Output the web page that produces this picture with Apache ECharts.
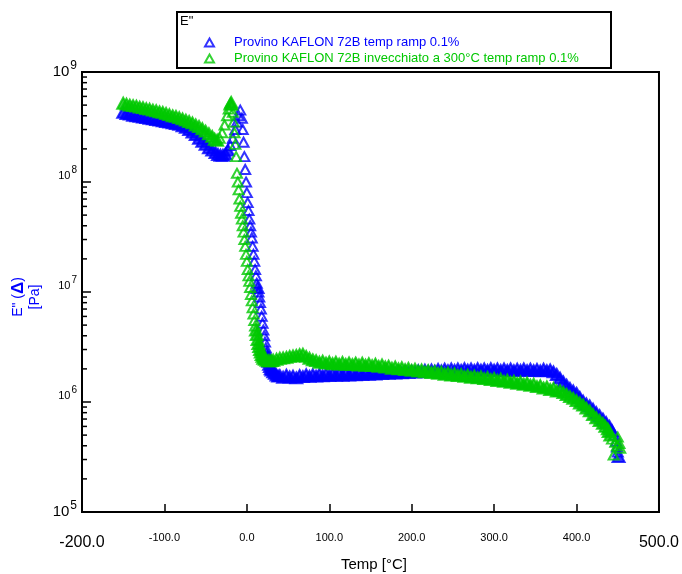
<!DOCTYPE html>
<html>
<head>
<meta charset="utf-8">
<script src="https://cdn.jsdelivr.net/npm/echarts@6/dist/echarts.min.js"></script>
<style>html,body{margin:0;padding:0;background:#fff}#c{width:682px;height:574px}</style>
</head>
<body>
<div id="c"></div>
<script>
const seriesNames = ['Provino KAFLON 72B temp ramp 0.1%', 'Provino KAFLON 72B invecchiato a 300°C temp ramp 0.1%'];
const xTickLabels = ['-200.0','-100.0','0.0','100.0','200.0','300.0','400.0','500.0'];
const yTickExponents = [5,6,7,8,9];
const yMinorValues = [2e5,3e5,4e5,5e5,6e5,7e5,8e5,9e5,2e6,3e6,4e6,5e6,6e6,7e6,8e6,9e6,2e7,3e7,4e7,5e7,6e7,7e7,8e7,9e7,2e8,3e8,4e8,5e8,6e8,7e8,8e8,9e8];

const blueT = [-150,-146,-142,-138,-134,-130,-126,-122,-118,-114,-110,-106,-102,-98,-94,-90,-86,-82,-78,-74,-70,-66,-62,-58,-54,-50,-46,-42,-38,-35,-32,-29,-26,-23,-20,-17,-14,-12,-10,-8,-6,-5,-4,-3,-2,-1,0,1,2,3,4,5,6,7,8,9,10,11,12,13,14,15,16,17,18,19,20,21,22,23,24,25,26,27,28,29,30,32,34,36,38,40,44,48,52,56,60,64,68,72,76,80,84,88,92,96,100,104,108,112,116,120,124,128,132,136,140,144,148,152,156,160,164,168,172,176,180,184,188,192,196,200,204,208,212,216,220,224,228,232,236,240,244,248,252,256,260,264,268,272,276,280,284,288,292,296,300,304,308,312,316,320,324,328,332,336,340,344,348,352,356,360,364,368,372,376,380,384,388,392,396,400,404,408,412,416,420,424,428,432,436,440,443,446,448,449,450,451,452];
const blueV = [4.3e8,4.2e8,4.15e8,4.05e8,4.0e8,3.95e8,3.9e8,3.85e8,3.8e8,3.75e8,3.7e8,3.65e8,3.6e8,3.55e8,3.5e8,3.45e8,3.4e8,3.35e8,3.25e8,3.15e8,3.0e8,2.85e8,2.7e8,2.5e8,2.35e8,2.2e8,2.05e8,1.95e8,1.85e8,1.78e8,1.75e8,1.75e8,1.8e8,1.95e8,2.15e8,2.5e8,3.0e8,3.5e8,4.0e8,4.5e8,3.8e8,3.0e8,2.3e8,1.7e8,1.3e8,1.0e8,8e7,6.5e7,5.5e7,4.6e7,4e7,3.5e7,3.1e7,2.6e7,2.2e7,1.9e7,1.6e7,1.4e7,1.2e7,1.1e7,1.0e7,9e6,8e6,7e6,6e6,5.2e6,4.5e6,4e6,3.5e6,3.1e6,2.8e6,2.55e6,2.35e6,2.2e6,2.1e6,2.0e6,1.95e6,1.88e6,1.82e6,1.76e6,1.72e6,1.74e6,1.68e6,1.75e6,1.69e6,1.72e6,1.66e6,1.74e6,1.70e6,1.77e6,1.71e6,1.77e6,1.72e6,1.79e6,1.73e6,1.80e6,1.74e6,1.80e6,1.75e6,1.81e6,1.75e6,1.82e6,1.76e6,1.83e6,1.77e6,1.84e6,1.78e6,1.84e6,1.79e6,1.86e6,1.80e6,1.86e6,1.81e6,1.87e6,1.82e6,1.88e6,1.83e6,1.89e6,1.84e6,1.90e6,1.85e6,1.91e6,1.87e6,1.93e6,1.88e6,1.95e6,1.90e6,1.96e6,1.91e6,1.98e6,1.92e6,1.99e6,1.93e6,2.0e6,1.94e6,2.0e6,1.94e6,2.01e6,1.95e6,2.0e6,1.94e6,2.01e6,1.95e6,2.0e6,1.94e6,2.01e6,1.95e6,2.0e6,1.94e6,2.0e6,1.94e6,2.0e6,1.93e6,1.99e6,1.94e6,2.0e6,1.93e6,1.99e6,1.93e6,1.98e6,1.92e6,1.99e6,1.93e6,1.96e6,1.88e6,1.78e6,1.65e6,1.52e6,1.42e6,1.33e6,1.26e6,1.2e6,1.1e6,1.02e6,9.6e5,9.2e5,8.6e5,8.0e5,7.5e5,7.0e5,6.5e5,6.0e5,5.5e5,5.0e5,4.4e5,3.9e5,3.5e5,3.2e5];

const greenT = [-150,-146,-142,-138,-134,-130,-126,-122,-118,-114,-110,-106,-102,-98,-94,-90,-86,-82,-78,-74,-70,-66,-62,-58,-54,-50,-46,-42,-39,-36,-33,-30,-27,-24,-22,-20,-19,-18,-17,-16,-15,-14,-13,-12,-11,-10,-9,-8,-7,-6,-5,-4,-3,-2,-1,0,1,2,3,4,5,6,7,8,9,10,11,12,13,14,15,16,17,18,19,20,22,24,26,28,30,32,36,40,44,48,52,56,60,64,68,72,76,80,84,88,92,96,100,104,108,112,116,120,124,128,132,136,140,144,148,152,156,160,164,168,172,176,180,184,188,192,196,200,204,208,212,216,220,224,228,232,236,240,244,248,252,256,260,264,268,272,276,280,284,288,292,296,300,304,308,312,316,320,324,328,332,336,340,344,348,352,356,360,364,368,372,376,380,384,388,392,396,400,404,408,412,416,420,424,428,432,435,438,439,441,443,445,447,449,450,452,453];
const greenV = [5.2e8,5.1e8,5.0e8,4.95e8,4.9e8,4.8e8,4.75e8,4.65e8,4.6e8,4.5e8,4.45e8,4.35e8,4.3e8,4.2e8,4.1e8,4.0e8,3.95e8,3.85e8,3.75e8,3.65e8,3.55e8,3.45e8,3.3e8,3.2e8,3.05e8,2.9e8,2.75e8,2.6e8,2.45e8,2.4e8,2.5e8,2.8e8,3.3e8,4.0e8,4.6e8,5.1e8,5.3e8,5.0e8,4.3e8,3.5e8,2.8e8,2.2e8,1.7e8,1.2e8,1.0e8,8.5e7,7e7,6e7,5.2e7,4.6e7,4e7,3.5e7,3e7,2.6e7,2.2e7,1.9e7,1.6e7,1.4e7,1.25e7,1.1e7,9.5e6,8.3e6,7.2e6,6.3e6,5.5e6,4.9e6,4.5e6,4.1e6,3.7e6,3.4e6,3.2e6,3.0e6,2.85e6,2.7e6,2.6e6,2.5e6,2.45e6,2.4e6,2.38e6,2.36e6,2.38e6,2.4e6,2.45e6,2.5e6,2.52e6,2.55e6,2.6e6,2.62e6,2.65e6,2.7e6,2.72e6,2.6e6,2.5e6,2.42e6,2.38e6,2.30e6,2.35e6,2.26e6,2.31e6,2.23e6,2.30e6,2.21e6,2.29e6,2.20e6,2.27e6,2.19e6,2.26e6,2.17e6,2.25e6,2.16e6,2.23e6,2.14e6,2.21e6,2.11e6,2.17e6,2.08e6,2.12e6,2.03e6,2.08e6,2.0e6,2.05e6,1.97e6,2.02e6,1.94e6,1.99e6,1.91e6,1.96e6,1.88e6,1.93e6,1.85e6,1.90e6,1.82e6,1.87e6,1.79e6,1.84e6,1.76e6,1.81e6,1.74e6,1.78e6,1.71e6,1.75e6,1.68e6,1.73e6,1.66e6,1.70e6,1.63e6,1.67e6,1.60e6,1.64e6,1.57e6,1.61e6,1.54e6,1.58e6,1.51e6,1.55e6,1.48e6,1.52e6,1.45e6,1.49e6,1.42e6,1.45e6,1.38e6,1.41e6,1.34e6,1.37e6,1.30e6,1.33e6,1.26e6,1.27e6,1.22e6,1.17e6,1.12e6,1.08e6,1.03e6,9.8e5,9.4e5,8.8e5,8.3e5,7.7e5,7.2e5,6.8e5,6.4e5,6.0e5,5.7e5,5.4e5,5.0e5,4.6e5,3.3e5,4.3e5,4.0e5,4.8e5,4.2e5,3.8e5,4.6e5,5.0e5,5.6e5];

const BLUE = '#0000ff', GREEN = '#00c800';
const blueData = blueT.map((t, i) => [t, blueV[i]]);
const greenData = greenT.map((t, i) => [t, greenV[i]]);

// points whose neighbours are close on the log scale overlap into a solid band
function denseFlags(vals) {
  return vals.map((v, i) => {
    const a = i > 0 ? Math.abs(Math.log10(v) - Math.log10(vals[i - 1])) : 0;
    const b = i < vals.length - 1 ? Math.abs(Math.log10(v) - Math.log10(vals[i + 1])) : 0;
    return Math.max(a, b) < 0.045;
  });
}
const blueDense = denseFlags(blueV);
const greenDense = denseFlags(greenV);

const chart = echarts.init(document.getElementById('c'));
const FONT = 'Liberation Sans, Arial, sans-serif';
chart.setOption({
  backgroundColor: '#fff',
  animation: false,
  textStyle: { fontFamily: FONT },
  grid: { left: 82, right: 18, top: 72, bottom: 62, show: true, borderColor: '#000', borderWidth: 2, backgroundColor: 'transparent' },
  legend: {
    orient: 'vertical', left: 199, top: 31, itemWidth: 9, itemHeight: 8, itemGap: 3,
    selectedMode: false,
    textStyle: { fontSize: 13, fontFamily: FONT, padding: [0, 0, 0, 15] },
    data: [
      { name: seriesNames[0], icon: 'triangle', itemStyle: { color: 'rgba(0,0,0,0)', borderColor: BLUE, borderWidth: 2 }, textStyle: { color: BLUE } },
      { name: seriesNames[1], icon: 'triangle', itemStyle: { color: 'rgba(0,0,0,0)', borderColor: GREEN, borderWidth: 2 }, textStyle: { color: GREEN } }
    ]
  },
  graphic: [
    { type: 'rect', shape: { x: 177, y: 12, width: 434, height: 56 }, style: { fill: 'none', stroke: '#000', lineWidth: 2 }, z: 1 },
    { type: 'text', x: 180, y: 15, style: { text: 'E"', fontSize: 13, fontFamily: FONT, fill: '#000' } },
    { type: 'text', x: 27, y: 297, rotation: Math.PI / 2,
      style: { text: '{a|E" (}{d|Δ}{a|)}\n{a|[Pa]}', align: 'center', verticalAlign: 'middle', fill: BLUE,
        rich: { a: { fontSize: 14, fontFamily: FONT, fill: BLUE, lineHeight: 17 }, d: { fontSize: 17, fontWeight: 'bold', fontFamily: FONT, fill: BLUE, lineHeight: 17 } } } },
    { type: 'text', x: 374, y: 565, style: { text: 'Temp [°C]', fontSize: 15, fontFamily: FONT, fill: '#000', align: 'center', verticalAlign: 'middle' } }
  ],
  xAxis: {
    type: 'value', min: -200, max: 500, interval: 100,
    axisLine: { show: true, onZero: false, lineStyle: { color: '#000', width: 2 } },
    axisTick: { show: true, inside: true, length: 8, lineStyle: { color: '#000', width: 1.5 } },
    splitLine: { show: false },
    axisLabel: {
      margin: 20,
      formatter: function (v) {
        const idx = Math.round((v + 200) / 100);
        const s = xTickLabels[idx];
        return (idx === 0 || idx === 7) ? '{big|' + s + '}' : '{sm|' + s + '}';
      },
      rich: { big: { fontSize: 16, color: '#000', fontFamily: FONT, padding: [3, 0, 0, 0] }, sm: { fontSize: 11, color: '#000', fontFamily: FONT } }
    }
  },
  yAxis: {
    type: 'log', logBase: 10, min: 1e5, max: 1e9,
    axisLine: { show: true, onZero: false, lineStyle: { color: '#000', width: 2 } },
    axisTick: { show: true, inside: true, length: 9, lineStyle: { color: '#000', width: 1.5 } },
    splitLine: { show: false },
    axisLabel: {
      margin: 5,
      formatter: function (v) {
        const e = Math.round(Math.log10(v));
        if (yTickExponents.indexOf(e) < 0) return '';
        if (e === 9 || e === 5) return '{eb|10}{ee|' + e + '}';
        return '{mb|10}{me|' + e + '}';
      },
      rich: {
        eb: { fontSize: 15, color: '#000', fontFamily: FONT },
        ee: { fontSize: 12, color: '#000', fontFamily: FONT, padding: [0, 0, 12, 1] },
        mb: { fontSize: 11, color: '#000', fontFamily: FONT, padding: [0, 0, 12, 0] },
        me: { fontSize: 10, color: '#000', fontFamily: FONT, padding: [0, 0, 23, 1] }
      }
    }
  },
  series: [
    {
      type: 'custom', silent: true, z: 5,
      data: yMinorValues.map(v => [-200, v]),
      renderItem: function (params, api) {
        const p = api.coord([api.value(0), api.value(1)]);
        return { type: 'line', shape: { x1: p[0], y1: p[1], x2: p[0] + 5, y2: p[1] }, style: { stroke: '#000', lineWidth: 1.5 } };
      }
    },
    {
      name: seriesNames[0], type: 'scatter', symbol: 'triangle',
      symbolSize: function (val, p) { return blueDense[p.dataIndex] ? [12, 11] : [10, 9]; },
      itemStyle: { color: function (p) { return blueDense[p.dataIndex] ? BLUE : 'rgba(0,0,0,0)'; }, borderColor: BLUE, borderWidth: 2 },
      data: blueData, z: 2
    },
    {
      name: seriesNames[1], type: 'scatter', symbol: 'triangle',
      symbolSize: function (val, p) { return greenDense[p.dataIndex] ? [12, 11] : [10, 9]; },
      itemStyle: { color: function (p) { return greenDense[p.dataIndex] ? GREEN : 'rgba(0,0,0,0)'; }, borderColor: GREEN, borderWidth: 2 },
      data: greenData, z: 3
    }
  ]
});
</script>
</body>
</html>
